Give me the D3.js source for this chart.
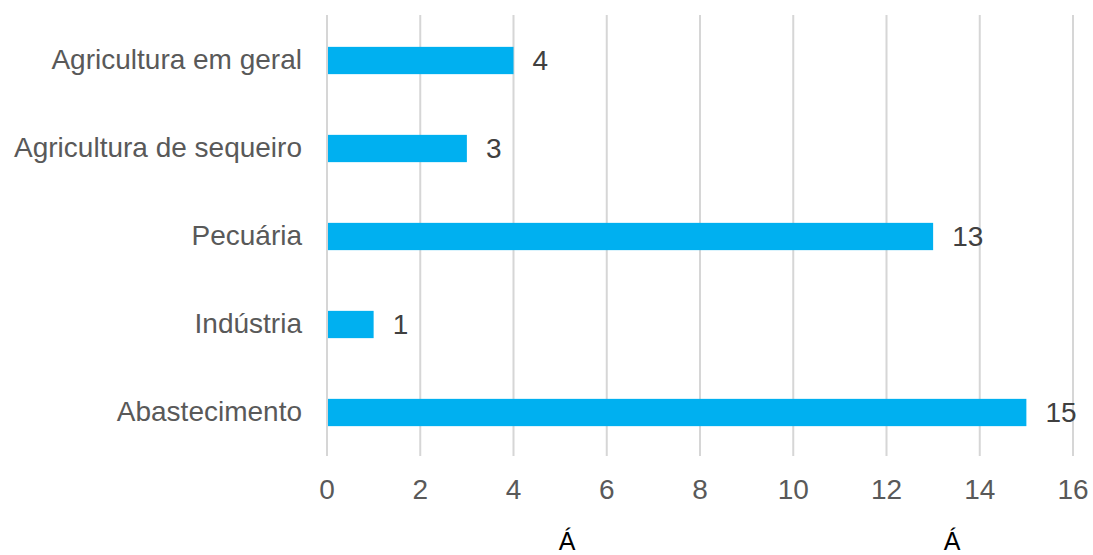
<!DOCTYPE html>
<html><head><meta charset="utf-8">
<script src="https://cdn.jsdelivr.net/npm/d3@7"></script>
<style>body{margin:0;background:#fff}svg{display:block}</style>
</head><body>
<script>
const categories = ["Agricultura em geral","Agricultura de sequeiro","Pecuária","Indústria","Abastecimento"];
const values = [4,3,13,1,15];
const tickValues = [0,2,4,6,8,10,12,14,16];
const footerTexts = ["Á","Á"];

const W=1093,H=555;
const svg=d3.select("body").append("svg").attr("width",W).attr("height",H);
const x=d3.scaleLinear().domain([0,16]).range([327,1073]);
const y=d3.scaleBand().domain(categories).range([16.5,456.5]).paddingInner(0.69).paddingOuter(0.345);
const font="'Liberation Sans', Arial, sans-serif";

svg.append("g").selectAll("line").data(tickValues).join("line")
  .attr("x1",d=>x(d)).attr("x2",d=>x(d)).attr("y1",15).attr("y2",456)
  .attr("stroke","#d6d6d6").attr("stroke-width",2);

svg.append("g").selectAll("rect").data(values).join("rect")
  .attr("x",x(0)+1).attr("y",(d,i)=>y(categories[i]))
  .attr("width",d=>x(d)-x(0)-1).attr("height",y.bandwidth())
  .attr("fill","#00b0f0");

svg.append("g").selectAll("text").data(values).join("text")
  .attr("x",d=>x(d)+19).attr("y",(d,i)=>y(categories[i])+y.bandwidth()/2)
  .attr("dy","0.33em").text(d=>d)
  .attr("font-family",font).attr("font-size",28).attr("fill","#404040");

svg.append("g").selectAll("text").data(categories).join("text")
  .attr("x",302).attr("y",d=>y(d)+y.bandwidth()/2).attr("dy","0.30em")
  .attr("text-anchor","end").text(d=>d)
  .attr("font-family",font).attr("font-size",28).attr("fill","#595959");

svg.append("g").selectAll("text").data(tickValues).join("text")
  .attr("x",d=>x(d)).attr("y",499).attr("text-anchor","middle").text(d=>d)
  .attr("font-family",font).attr("font-size",28).attr("fill","#595959");

svg.append("g").selectAll("text").data(footerTexts).join("text")
  .attr("x",(d,i)=>[567,952][i]).attr("y",550).attr("text-anchor","middle").text(d=>d)
  .attr("font-family",font).attr("font-size",25).attr("fill","#000");
</script>
</body></html>
